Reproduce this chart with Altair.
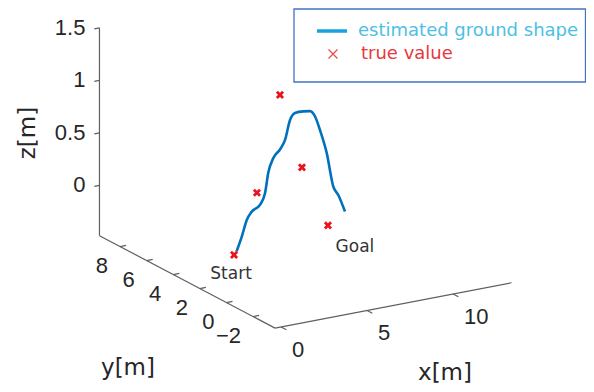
import altair as alt
import numpy as np
import pandas as pd

# ---------------- data (3-D, metres) ----------------
path_x = [0.24, 0.54, 0.83, 1.12, 1.60, 1.89, 2.08, 2.37, 2.76, 3.05,
          3.34, 3.63, 4.12, 4.51, 4.80, 5.09, 5.48, 5.86, 6.15, 6.54]
path_y = [0.0, 0.0, 0.0, 0.0, 0.0, 0.0, 0.0, 0.0, 0.0, 0.0,
          0.0, 0.0, 0.0, 0.0, 0.0, 0.0, 0.0, 0.0, 0.0, 0.0]
path_z = [-0.01, 0.12, 0.27, 0.34, 0.39, 0.49, 0.68, 0.81, 0.88, 0.96,
          1.14, 1.20, 1.20, 1.19, 1.13, 0.99, 0.76, 0.43, 0.34, 0.17]

true_x = [0.09, 1.42, 2.76, 4.04, 5.55]
true_y = [0.0, 0.0, 0.0, 0.0, 0.0]
true_z = [-0.04, 0.51, 1.40, 0.67, 0.07]

point_names = ["Start", "Goal"]
point_idx = [0, 4]

x_ticks = [0, 5, 10]
y_ticks = [-2, 0, 2, 4, 6, 8]
z_ticks = [0, 0.5, 1, 1.5]
x_range = [-0.35, 13.4]
y_range = [-3.65, 9.55]
z_range = [-0.48, 1.5]

legend_labels = ["estimated ground shape", "true value"]

# ---------------- view projection (layout) ----------------
OX, OY = 232.5, 251.0
AX, AY = 17.2, -3.3      # per unit x
BX, BY = -13.3, -7.0     # per unit y
CZ = -105.0              # per unit z


def proj(x, y, z):
    x = np.asarray(x, float); y = np.asarray(y, float); z = np.asarray(z, float)
    return OX + AX * x + BX * y, OY + AY * x + BY * y + CZ * z


W, H = 578, 376
XS = alt.Scale(domain=[8, 8 + W], nice=False, zero=False)
YS = alt.Scale(domain=[8 + H, 8], nice=False, zero=False)


def X(f="sx"):
    return alt.X(f"{f}:Q", scale=XS, axis=None)


def Y(f="sy"):
    return alt.Y(f"{f}:Q", scale=YS, axis=None)


AXC = "#5f5f5f"
TXT = "#262626"

# path
sx, sy = proj(path_x, path_y, path_z)
df_path = pd.DataFrame({"sx": sx, "sy": sy, "i": range(len(sx))})
line = alt.Chart(df_path).mark_line(color="#0072BD", strokeWidth=2.6,
                                    interpolate="monotone").encode(
    x=X(), y=Y(), order="i:Q")

# true values
tx, ty = proj(true_x, true_y, true_z)
df_true = pd.DataFrame({"sx": tx, "sy": ty})
xmark = "M-1,-1L1,1M1,-1L-1,1"
pts = alt.Chart(df_true).mark_point(shape=xmark, filled=False, color="#E8141E",
                                    strokeWidth=2.8, size=38, opacity=1).encode(
    x=X(), y=Y())

# Start / Goal labels
df_sg = pd.DataFrame({"sx": tx[point_idx], "sy": ty[point_idx], "t": point_names,
                      "ox": [-3, 27], "oy": [19, 22]})
df_sg["lx"] = df_sg["sx"] + df_sg["ox"]
df_sg["ly"] = df_sg["sy"] + df_sg["oy"]
sg = alt.Chart(df_sg).mark_text(font="DejaVu Sans", fontSize=17, color="#333333",
                                baseline="middle").encode(
    x=X("lx"), y=Y("ly"), text="t:N")

# axes lines
segs = []
x0, x1 = x_range; y0, y1 = y_range; z0, z1 = z_range
for a, b in [((x0, y1, z0), (x0, y1, z1)),
             ((x0, y0, z0), (x0, y1, z0)),
             ((x0, y0, z0), (x1, y0, z0))]:
    s1 = proj(*a); s2 = proj(*b)
    segs.append({"sx": float(s1[0]), "sy": float(s1[1]),
                 "sx2": float(s2[0]), "sy2": float(s2[1])})
for z in z_ticks:
    s1 = proj(x0, y1, z); s2 = proj(x0 - 0.3, y1, z)
    segs.append({"sx": float(s1[0]), "sy": float(s1[1]), "sx2": float(s2[0]), "sy2": float(s2[1])})
for y in y_ticks:
    s1 = proj(x0, y, z0); s2 = proj(x0 + 0.35, y, z0)
    segs.append({"sx": float(s1[0]), "sy": float(s1[1]), "sx2": float(s2[0]), "sy2": float(s2[1])})
for x in x_ticks:
    s1 = proj(x, y0, z0); s2 = proj(x, y0 - 0.4, z0)
    segs.append({"sx": float(s1[0]), "sy": float(s1[1]), "sx2": float(s2[0]), "sy2": float(s2[1])})
df_seg = pd.DataFrame(segs)
axes = alt.Chart(df_seg).mark_rule(color=AXC, strokeWidth=1.2).encode(
    x=X(), y=Y(), x2="sx2:Q", y2="sy2:Q")

# tick labels
def fmt(v):
    return f"{v:g}".replace("-", "\u2212")

zx, zy = proj([x0] * len(z_ticks), [y1] * len(z_ticks), z_ticks)
df_zl = pd.DataFrame({"sx": zx, "sy": zy, "t": [fmt(v) for v in z_ticks]})
zl = alt.Chart(df_zl).mark_text(font="Liberation Sans", fontSize=22, color=TXT,
                                align="right", baseline="middle", dx=-14).encode(
    x=X(), y=Y(), text="t:N")

yx, yy = proj([x0] * len(y_ticks), y_ticks, [z0] * len(y_ticks))
df_yl = pd.DataFrame({"sx": yx, "sy": yy, "t": [fmt(v) for v in y_ticks]})
yl = alt.Chart(df_yl).mark_text(font="Liberation Sans", fontSize=22, color=TXT,
                                align="right", baseline="middle", dx=-12, dy=19).encode(
    x=X(), y=Y(), text="t:N")

xx, xy = proj(x_ticks, [y0] * len(x_ticks), [z0] * len(x_ticks))
df_xl = pd.DataFrame({"sx": xx, "sy": xy, "t": [fmt(v) for v in x_ticks]})
xl = alt.Chart(df_xl).mark_text(font="Liberation Sans", fontSize=22, color=TXT,
                                align="left", baseline="middle", dx=11, dy=23).encode(
    x=X(), y=Y(), text="t:N")

# axis titles
df_titles = pd.DataFrame({"sx": [28, 128, 445], "sy": [133, 368, 373],
                          "t": ["z[m]", "y[m]", "x[m]"], "a": [270, 0, 0]})
titles = alt.Chart(df_titles).mark_text(font="DejaVu Sans", fontSize=23, color=TXT,
                                        baseline="middle").encode(
    x=X(), y=Y(), text="t:N", angle=alt.Angle("a:Q", scale=None))

# legend (manual box)
df_box = pd.DataFrame({"sx": [294], "sy": [9], "sx2": [585.5], "sy2": [82]})
box = alt.Chart(df_box).mark_rect(fill="white", stroke="#4472C4", strokeWidth=1.3).encode(
    x=X(), y=Y(), x2="sx2:Q", y2="sy2:Q")
df_lline = pd.DataFrame({"sx": [317], "sy": [31], "sx2": [347]})
lline = alt.Chart(df_lline).mark_rule(color="#17A2E0", strokeWidth=3.5).encode(
    x=X(), y=Y(), x2="sx2:Q")
df_lx = pd.DataFrame({"sx": [333], "sy": [54]})
lx = alt.Chart(df_lx).mark_point(shape=xmark, filled=False, color="#E84A4A",
                                 strokeWidth=1.2, size=80, opacity=1).encode(x=X(), y=Y())
df_lt = pd.DataFrame({"sx": [358, 361], "sy": [31, 54], "t": legend_labels,
                      "c": ["#4DBFE6", "#E8383D"]})
lt = alt.Chart(df_lt).mark_text(font="DejaVu Sans", fontSize=18, align="left",
                                baseline="middle").encode(
    x=X(), y=Y(), text="t:N", color=alt.Color("c:N", scale=None))

chart = alt.layer(axes, zl, yl, xl, titles, line, pts, sg, box, lline, lx, lt).properties(
    width=W, height=H, autosize="none", padding=0,
    background="white").configure_view(stroke=None)

chart.save("out.html", embed_options={"renderer": "svg", "actions": False})
